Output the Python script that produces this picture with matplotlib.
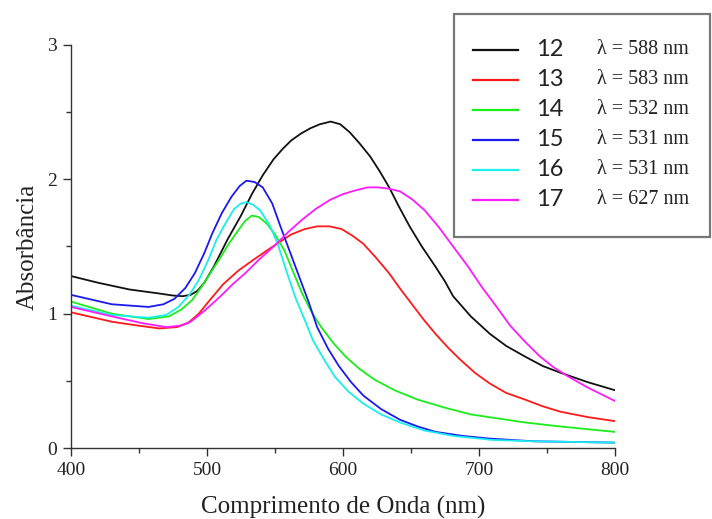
import matplotlib.pyplot as plt
from matplotlib.lines import Line2D
from matplotlib.patches import Rectangle

# amostras e picos
amostras = ["12", "13", "14", "15", "16", "17"]
picos = [588, 583, 532, 531, 531, 627]

# espectros (nm, absorbância)
wl_12 = [400, 420, 443, 465, 475, 482, 488, 493, 498, 505, 515, 525, 533, 541, 549, 556, 562, 569, 576, 583, 591, 598, 605, 612, 620, 627, 634, 641, 649, 658, 668, 675, 681, 694, 708, 720, 734, 747, 760, 780, 800]
ab_12 = [1.28, 1.23, 1.18, 1.15, 1.135, 1.13, 1.14, 1.17, 1.23, 1.35, 1.55, 1.73, 1.89, 2.03, 2.15, 2.23, 2.29, 2.34, 2.38, 2.41, 2.43, 2.41, 2.35, 2.27, 2.17, 2.06, 1.94, 1.80, 1.65, 1.50, 1.35, 1.24, 1.13, 0.98, 0.85, 0.76, 0.68, 0.61, 0.56, 0.49, 0.43]

wl_13 = [400, 430, 450, 465, 478, 486, 494, 502, 512, 523, 534, 544, 553, 562, 572, 581, 590, 599, 607, 615, 624, 634, 641, 650, 659, 668, 677, 686, 697, 708, 720, 734, 747, 760, 780, 800]
ab_13 = [1.01, 0.94, 0.91, 0.89, 0.90, 0.93, 1.00, 1.10, 1.22, 1.32, 1.40, 1.47, 1.53, 1.59, 1.63, 1.65, 1.65, 1.63, 1.58, 1.52, 1.42, 1.30, 1.20, 1.08, 0.96, 0.85, 0.75, 0.66, 0.56, 0.48, 0.41, 0.36, 0.31, 0.27, 0.23, 0.20]

wl_14 = [400, 430, 457, 472, 481, 489, 496, 503, 510, 516, 523, 528, 533, 538, 544, 550, 557, 563, 570, 577, 584, 593, 602, 612, 623, 638, 655, 675, 694, 714, 734, 760, 780, 800]
ab_14 = [1.09, 1.00, 0.96, 0.98, 1.03, 1.10, 1.20, 1.31, 1.42, 1.52, 1.62, 1.69, 1.73, 1.72, 1.67, 1.59, 1.47, 1.32, 1.15, 1.01, 0.90, 0.78, 0.68, 0.59, 0.51, 0.43, 0.36, 0.30, 0.25, 0.22, 0.19, 0.16, 0.14, 0.12]

wl_15 = [400, 430, 457, 468, 476, 484, 491, 498, 504, 511, 518, 524, 529, 535, 541, 548, 554, 561, 568, 575, 581, 589, 597, 606, 615, 628, 642, 655, 668, 688, 708, 740, 770, 800]
ab_15 = [1.14, 1.07, 1.05, 1.07, 1.11, 1.19, 1.30, 1.45, 1.60, 1.75, 1.87, 1.95, 1.99, 1.98, 1.94, 1.82, 1.65, 1.46, 1.27, 1.08, 0.90, 0.74, 0.61, 0.49, 0.39, 0.29, 0.21, 0.16, 0.12, 0.09, 0.07, 0.05, 0.045, 0.04]

wl_16 = [400, 430, 457, 470, 479, 487, 494, 501, 507, 514, 520, 525, 529, 534, 539, 546, 552, 558, 565, 572, 578, 586, 594, 604, 615, 628, 642, 660, 681, 710, 740, 770, 800]
ab_16 = [1.06, 0.99, 0.97, 0.99, 1.05, 1.14, 1.25, 1.40, 1.55, 1.68, 1.78, 1.82, 1.83, 1.81, 1.77, 1.66, 1.52, 1.33, 1.12, 0.95, 0.80, 0.66, 0.53, 0.42, 0.33, 0.25, 0.19, 0.13, 0.09, 0.06, 0.05, 0.045, 0.04]

wl_17 = [400, 430, 452, 470, 480, 488, 498, 510, 519, 528, 538, 549, 560, 570, 580, 591, 600, 610, 618, 626, 634, 642, 651, 660, 670, 681, 692, 702, 713, 723, 734, 745, 755, 766, 780, 800]
ab_17 = [1.05, 0.98, 0.93, 0.90, 0.91, 0.94, 1.02, 1.13, 1.22, 1.30, 1.40, 1.50, 1.61, 1.70, 1.78, 1.85, 1.89, 1.92, 1.94, 1.94, 1.93, 1.91, 1.85, 1.77, 1.65, 1.50, 1.35, 1.20, 1.05, 0.91, 0.79, 0.68, 0.60, 0.53, 0.45, 0.35]

espectros = [(wl_12, ab_12), (wl_13, ab_13), (wl_14, ab_14), (wl_15, ab_15), (wl_16, ab_16), (wl_17, ab_17)]
cores = ["#111111", "#ff1a1a", "#1aee1a", "#1a1aee", "#1aeeee", "#ff1aff"]

serif = "Liberation Serif"

fig = plt.figure(figsize=(7.12, 5.19), dpi=100)
ax = fig.add_axes([0.0997, 0.1368, 0.764, 0.7765])

for (x, y), c in zip(espectros, cores):
    ax.plot(x, y, color=c, lw=1.3)

ax.set_xlim(400, 800)
ax.set_ylim(0, 3)
ax.set_xticks([400, 500, 600, 700, 800])
ax.set_xticks([450, 550, 650, 750], minor=True)
ax.set_yticks([0, 1, 2, 3])
ax.set_yticks([0.5, 1.5, 2.5], minor=True)
ax.spines["top"].set_visible(False)
ax.spines["right"].set_visible(False)
for s in ["left", "bottom"]:
    ax.spines[s].set_color("#333333")
    ax.spines[s].set_linewidth(1.0)
ax.tick_params(which="major", length=6, width=1.0, color="#333333", labelsize=14, pad=4)
ax.tick_params(which="minor", length=3.5, width=1.0, color="#333333")
for lab in ax.get_xticklabels() + ax.get_yticklabels():
    lab.set_fontfamily(serif)
    lab.set_color("#222222")

ax.set_xlabel("Comprimento de Onda (nm)", fontfamily=serif, fontsize=18, color="#222222", labelpad=12)
ax.set_ylabel("Absorbância", fontfamily=serif, fontsize=18, color="#222222", labelpad=6)

# legenda desenhada à mão (fora dos eixos)
W, H = 712, 519
def fx(px):
    return px / W
def fy(py):
    return 1 - py / H

fig.patches.append(Rectangle((fx(454), fy(237)), fx(710) - fx(454), fy(14) - fy(237),
                             transform=fig.transFigure, fill=True, facecolor="white",
                             edgecolor="#777777", lw=1.6))
linhas_y = [50, 80, 110, 140, 170, 200]
for i, (nome, pico, c) in enumerate(zip(amostras, picos, cores)):
    yy = fy(linhas_y[i])
    fig.add_artist(Line2D([fx(473), fx(518)], [yy, yy], color=c, lw=1.6, transform=fig.transFigure))
    fig.text(fx(550), yy, nome, fontfamily="Lato", fontsize=17, ha="center", va="center", color="#222222")
    fig.text(fx(643), yy, "λ = %d nm" % pico, fontfamily=serif, fontsize=14.5, ha="center", va="center", color="#222222")

fig.savefig("out.png", dpi=100)
